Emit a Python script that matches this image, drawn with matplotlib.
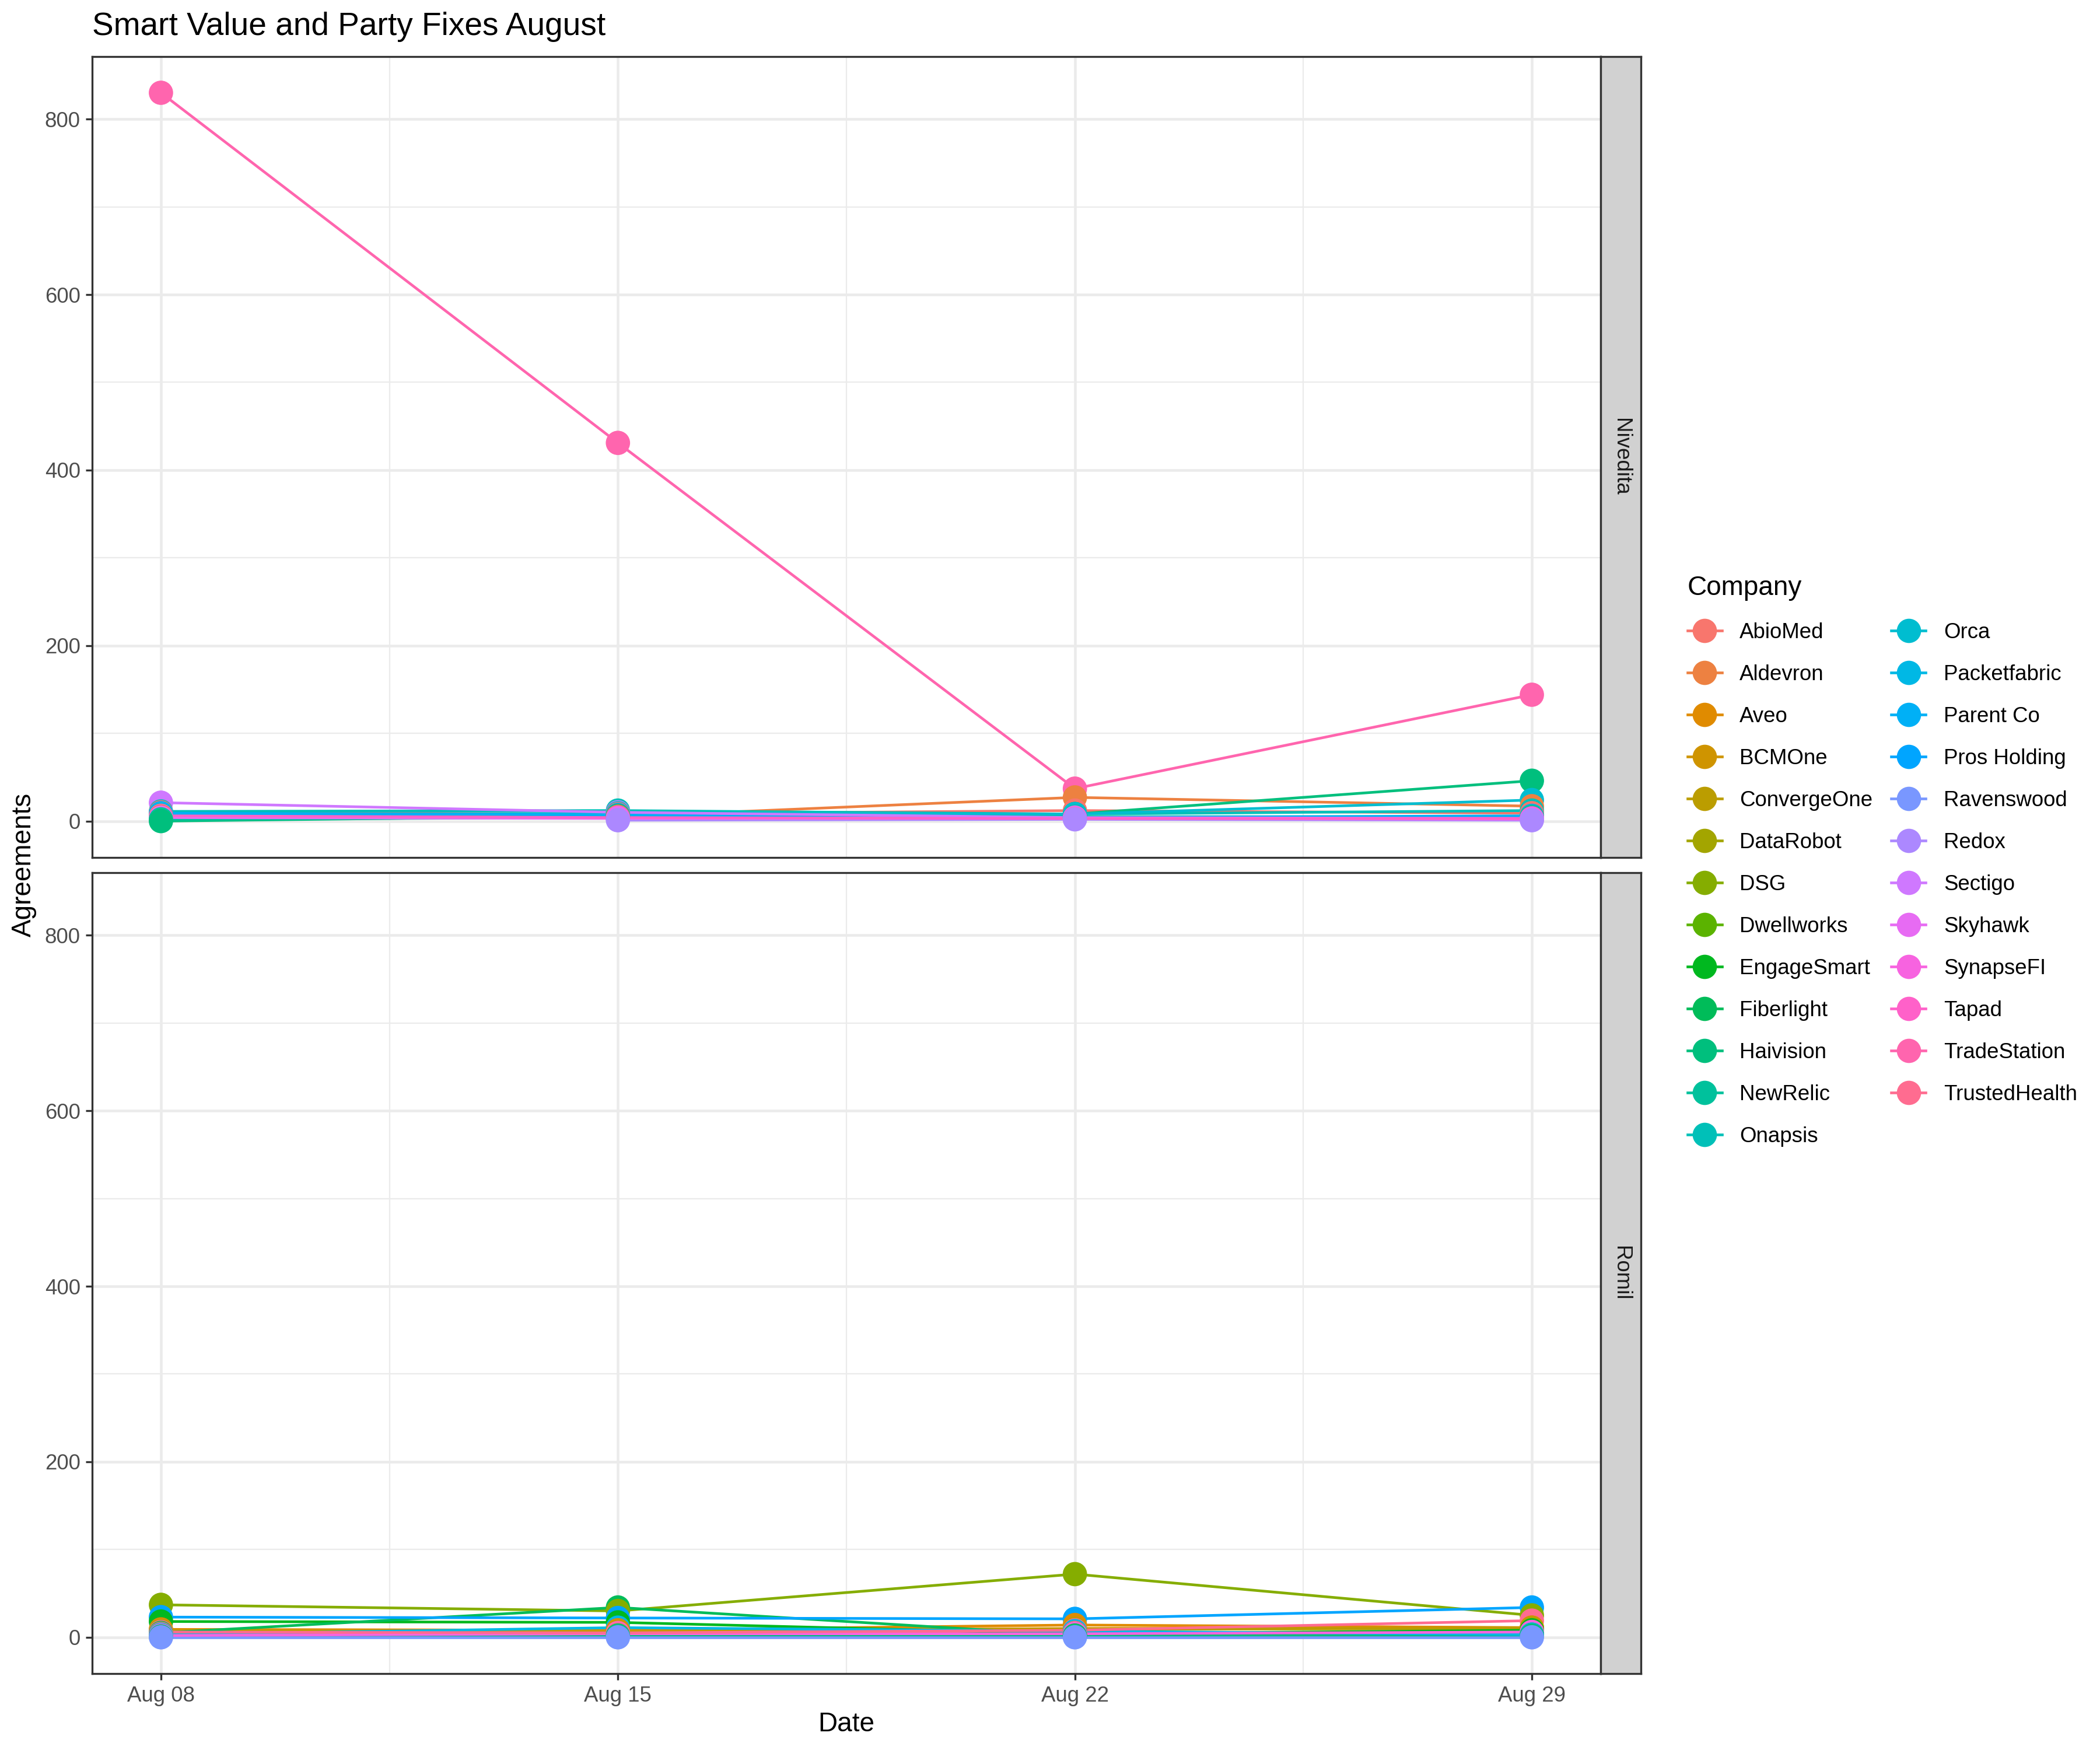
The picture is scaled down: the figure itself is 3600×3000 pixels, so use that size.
import numpy as np
import matplotlib
matplotlib.use("Agg")
import matplotlib.pyplot as plt
import matplotlib.dates as mdates
from matplotlib.lines import Line2D
from datetime import date

plt.rcParams["font.family"] = ["Liberation Sans", "DejaVu Sans"]

# data
dates = [date(2022, 8, 8), date(2022, 8, 15), date(2022, 8, 22), date(2022, 8, 29)]
companies = ["AbioMed", "Aldevron", "Aveo", "BCMOne", "ConvergeOne", "DataRobot",
             "DSG", "Dwellworks", "EngageSmart", "Fiberlight", "Haivision", "NewRelic",
             "Onapsis", "Orca", "Packetfabric", "Parent Co", "Pros Holding",
             "Ravenswood", "Redox", "Sectigo", "Skyhawk", "SynapseFI", "Tapad",
             "TradeStation", "TrustedHealth"]
panels = ["Nivedita", "Romil"]

N = None
nivedita = [
    [10, 8, 12, 9],      # AbioMed
    [5, 5, 27, 17],      # Aldevron
    N, N, N, N, N, N, N, N,
    [0, 6, 8, 46],       # Haivision
    [2, 4, 5, 5],        # NewRelic
    [11, 12, 8, 12],     # Onapsis
    [7, 9, 8, 24],       # Orca
    N,
    [9, 7, 4, 6],        # Parent Co
    N, N,
    [N, 1, 2, 1],        # Redox
    [21, 10, 4, 3],      # Sectigo
    [4, 3, 3, 2],        # Skyhawk
    N,
    [6, 4, 3, 3],        # Tapad
    [830, 431, 37, 144], # TradeStation
    N,
]
romil = [
    [4, 3, 5, 6],        # AbioMed
    N,
    [9, 8, 14, 11],      # Aveo
    [8, 7, 10, 11],      # BCMOne
    [7, 6, 9, 10],       # ConvergeOne
    N,
    [37, 30, 72, 25],    # DSG
    N,
    [18, 17, 4, 8],      # EngageSmart
    [5, 34, 2, 3],       # Fiberlight
    [1, 2, 1, 2],        # Haivision
    N, N, N,
    [3, 11, 7, 3],       # Packetfabric
    N,
    [23, 22, 21, 34],    # Pros Holding
    [0, 0, 0, 0],        # Ravenswood
    N, N, N,
    [2, 4, 4, 6],        # SynapseFI
    N, N,
    [6, 5, 8, 19],       # TrustedHealth
]


def hue_pal(n, l=65, c=100, h0=15):
    # ggplot2 default discrete palette (HCL / polar Luv -> sRGB)
    hues = np.linspace(h0, h0 + 360, n + 1)[:-1]
    Y = ((l + 16) / 116) ** 3
    xn, yn, zn = 0.95047, 1.0, 1.08883
    un = 4 * xn / (xn + 15 * yn + 3 * zn)
    vn = 9 * yn / (xn + 15 * yn + 3 * zn)
    M = np.array([[3.2404542, -1.5371385, -0.4985314],
                  [-0.9692660, 1.8760108, 0.0415560],
                  [0.0556434, -0.2040259, 1.0572252]])
    out = []
    for h in hues:
        u = c * np.cos(np.radians(h))
        v = c * np.sin(np.radians(h))
        up = u / (13 * l) + un
        vp = v / (13 * l) + vn
        X = Y * 9 * up / (4 * vp)
        Z = Y * (12 - 3 * up - 20 * vp) / (4 * vp)
        rgb = M @ np.array([X, Y, Z])
        rgb = np.where(rgb <= 0.0031308, 12.92 * rgb, 1.055 * np.abs(rgb) ** (1 / 2.4) - 0.055)
        out.append(tuple(np.clip(rgb, 0, 1)))
    return out


colors = hue_pal(len(companies))
xnum = mdates.date2num(dates)
span = xnum[-1] - xnum[0]
ymax = 830

fig = plt.figure(figsize=(12, 10), dpi=300)
left, width = 0.044, 0.7181
bottoms = [0.510, 0.0436]
height = 0.4578
strip_w = 0.0192

grey20 = "#333333"
grey30 = "#4D4D4D"
grid_c = "#EBEBEB"
ms = 10

for k, (name, vals) in enumerate(zip(panels, [nivedita, romil])):
    ax = fig.add_axes([left, bottoms[k], width, height])
    px, py, pc = [], [], []
    for col, v in zip(colors, vals):
        if v is None:
            continue
        y = np.array([np.nan if a is None else a for a in v], dtype=float)
        ax.plot(xnum, y, color=col, lw=1.1, zorder=3)
        for xi, yi in zip(xnum, y):
            if not np.isnan(yi):
                px.append(xi)
                py.append(yi)
                pc.append(col)
    # points: larger values first so the small ones end up on top
    order = np.argsort(-np.array(py), kind="stable")
    ax.scatter(np.array(px)[order], np.array(py)[order], s=ms ** 2,
               c=[pc[i] for i in order], edgecolors="none", zorder=4)

    ax.set_xlim(xnum[0] - 0.05 * span, xnum[-1] + 0.05 * span)
    ax.set_ylim(-0.05 * ymax, ymax * 1.05)
    ax.set_xticks(xnum)
    ax.set_xticks([(a + b) / 2 for a, b in zip(xnum[:-1], xnum[1:])], minor=True)
    ax.set_yticks([0, 200, 400, 600, 800])
    ax.set_yticks([100, 300, 500, 700], minor=True)
    ax.grid(True, which="major", color=grid_c, lw=1.1, zorder=0)
    ax.grid(True, which="minor", color=grid_c, lw=0.55, zorder=0)
    ax.set_axisbelow(True)
    ax.tick_params(which="minor", length=0)
    ax.tick_params(which="major", length=2.75, width=0.8, color=grey20,
                   labelsize=8.8, labelcolor=grey30, pad=2.2)
    if k == 0:
        ax.set_xticklabels([])
        ax.tick_params(axis="x", length=0)
    else:
        ax.set_xticklabels([d.strftime("%b %d") for d in dates])
    for s in ax.spines.values():
        s.set_color(grey20)
        s.set_linewidth(0.8)

    # facet strip
    sax = fig.add_axes([left + width, bottoms[k], strip_w, height])
    sax.set_facecolor("#D1D1D1")
    sax.set_xticks([])
    sax.set_yticks([])
    for s in sax.spines.values():
        s.set_color(grey20)
        s.set_linewidth(0.8)
    sax.text(0.5, 0.5, name, rotation=-90, ha="center", va="center",
             fontsize=8.8, color="#1A1A1A", transform=sax.transAxes)

fig.text(left, 0.9847, "Smart Value and Party Fixes August", fontsize=13.2,
         ha="left", va="center")
fig.text(0.0115, 0.506, "Agreements", rotation=90, fontsize=11,
         ha="center", va="center")
fig.text(left + width / 2, 0.0145, "Date", fontsize=11, ha="center", va="center")

handles = [Line2D([0], [0], color=c, lw=1.1, marker="o", ms=ms, mec="none")
           for c in colors]
leg = fig.legend(handles, companies, loc="upper left", bbox_to_anchor=(0.7985, 0.6775),
                 ncol=2, frameon=False, title="Company", title_fontsize=11,
                 fontsize=8.8, labelspacing=1.01, handlelength=1.6,
                 handletextpad=0.84, columnspacing=0.87, borderpad=0,
                 alignment="left")

fig.savefig("out.png", dpi=300)
